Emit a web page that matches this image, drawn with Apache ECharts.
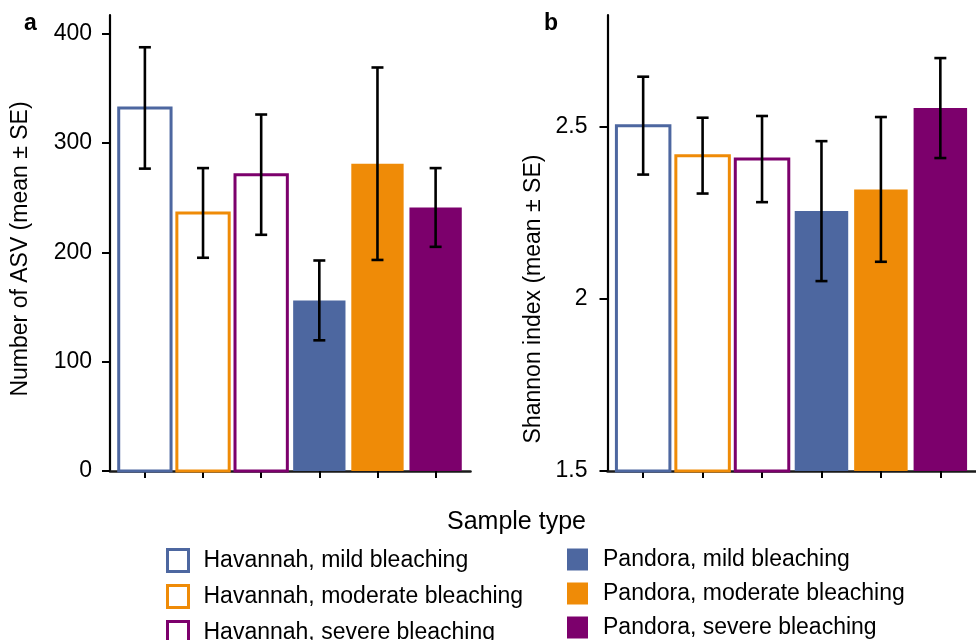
<!DOCTYPE html>
<html>
<head>
<meta charset="utf-8">
<script src="https://cdn.jsdelivr.net/npm/echarts@6/dist/echarts.min.js"></script>
<style>
	html, body { margin: 0; padding: 0; background: #fff; }
	#container { width: 976px; height: 640px; }
</style>
</head>
<body>
<div id="container"></div>
<script>
(function(){

	// data
	var sampleTypes = [
		"Havannah, mild bleaching",
		"Havannah, moderate bleaching",
		"Havannah, severe bleaching",
		"Pandora, mild bleaching",
		"Pandora, moderate bleaching",
		"Pandora, severe bleaching"
	];
	var xPos = [ 1, 2, 3, 4, 5, 6 ];
	var asvMean = [ 332, 236, 271, 156, 281, 241 ];
	var asvSE = [ 55.5, 41, 55, 36.5, 88, 36 ];
	var shannonMean = [ 2.502, 2.415, 2.405, 2.254, 2.317, 2.553 ];
	var shannonSE = [ 0.142, 0.11, 0.125, 0.203, 0.21, 0.145 ];
	var asvTicks = [ 0, 100, 200, 300, 400 ];
	var shannonTicks = [ 1.5, 2, 2.5 ];
	var hollow = [ true, true, true, false, false, false ];

	var palette = [ "#4D67A0", "#EF8B07", "#7C006C", "#4D67A0", "#EF8B07", "#7C006C" ];
	var FONT = "Liberation Sans";

	var dom = window.document.getElementById( "container" );
	var myChart = echarts.init( dom );

	var barSeries = function( idx, means, base ){
		var out = [];
		var i = 0, iLen = sampleTypes.length;
		for(;i<iLen;++i){
			(function( k ){
				out.push({
					type : "custom",
					name : sampleTypes[ k ],
					xAxisIndex : idx,
					yAxisIndex : idx,
					z : 2,
					data : [ [ xPos[ k ], means[ k ] ] ],
					renderItem : function( params, api ){
						var p0 = api.coord( [ api.value( 0 ) - 0.45, api.value( 1 ) ] );
						var p1 = api.coord( [ api.value( 0 ) + 0.45, base ] );
						return {
							type : "rect",
							shape : { x : p0[0], y : p0[1], width : p1[0] - p0[0], height : p1[1] - p0[1] },
							style : hollow[ k ]
								? { fill : "#fff", stroke : palette[ k ], lineWidth : 3 }
								: { fill : palette[ k ] }
						};
					}
				});
			})( i );
		}
		return out;
	};

	var errSeries = function( idx, means, se ){
		var d = [];
		var i = 0, iLen = means.length;
		for(;i<iLen;++i) d.push( [ xPos[ i ], means[ i ] - se[ i ], means[ i ] + se[ i ] ] );
		return {
			type : "custom",
			name : "err" + idx,
			xAxisIndex : idx,
			yAxisIndex : idx,
			z : 5,
			data : d,
			renderItem : function( params, api ){
				var lo = api.coord( [ api.value( 0 ), api.value( 1 ) ] );
				var hi = api.coord( [ api.value( 0 ), api.value( 2 ) ] );
				var st = { stroke : "#000", lineWidth : 2.6 };
				var w = 6;
				return {
					type : "group",
					children : [
						{ type : "line", shape : { x1 : lo[0], y1 : lo[1], x2 : hi[0], y2 : hi[1] }, style : st },
						{ type : "line", shape : { x1 : lo[0] - w, y1 : lo[1], x2 : lo[0] + w, y2 : lo[1] }, style : st },
						{ type : "line", shape : { x1 : hi[0] - w, y1 : hi[1], x2 : hi[0] + w, y2 : hi[1] }, style : st }
					]
				};
			}
		};
	};

	var xAxisOf = function( idx ){
		return {
			type : "value",
			gridIndex : idx,
			min : 0.4,
			max : 6.6,
			splitLine : { show : false },
			axisLine : { lineStyle : { color : "#1a1a1a", width : 2.6 } },
			axisTick : { customValues : xPos, length : 7, lineStyle : { color : "#000", width : 2 } },
			axisLabel : { show : false }
		};
	};

	var yAxisOf = function( idx, min, max, ticks, name, gap, margin, pad ){
		return {
			type : "value",
			gridIndex : idx,
			min : min,
			max : max,
			name : name,
			nameLocation : "middle",
			nameGap : gap,
			nameTextStyle : { fontFamily : FONT, fontSize : 23, color : "#000", padding : pad },
			splitLine : { show : false },
			axisLine : { show : true, lineStyle : { color : "#000", width : 2.2 } },
			axisTick : { customValues : ticks, length : 8, lineStyle : { color : "#000", width : 2 } },
			axisLabel : {
				customValues : ticks,
				margin : margin,
				fontFamily : FONT, fontSize : 23, color : "#000",
				formatter : function( v ){ return String( v ); }
			}
		};
	};

	var legendOf = function( names, left, isHollow ){
		var d = [];
		var i = 0, iLen = names.length;
		for(;i<iLen;++i){
			var k = sampleTypes.indexOf( names[ i ] );
			d.push({
				name : names[ i ],
				icon : "rect",
				itemStyle : isHollow
					? { color : "#fff", borderColor : palette[ k ], borderWidth : 3 }
					: { color : palette[ k ], borderWidth : 0 }
			});
		}
		return {
			orient : "vertical",
			left : left,
			top : 548,
			height : 200,
			itemWidth : 21,
			itemHeight : 22,
			itemGap : 11,
			selectedMode : false,
			padding : 0,
			textStyle : { fontFamily : FONT, fontSize : 23, color : "#000", padding : [ 0, 0, 0, 10 ] },
			data : d
		};
	};

	var option = {
		animation : false,
		textStyle : { fontFamily : FONT },
		title : [
			{ text : "a", left : 24, top : 12, padding : 0, textStyle : { fontFamily : FONT, fontSize : 23, fontWeight : "bold", color : "#000" } },
			{ text : "b", left : 544, top : 12, padding : 0, textStyle : { fontFamily : FONT, fontSize : 23, fontWeight : "bold", color : "#000" } },
			{ text : "Sample type", left : 447, top : 510, padding : 0, textStyle : { fontFamily : FONT, fontSize : 25, fontWeight : "normal", color : "#000" } }
		],
		grid : [
			{ left : 110, top : 15, width : 360.5, height : 456 },
			{ left : 607.5, top : 15, width : 368.5, height : 456 }
		],
		xAxis : [ xAxisOf( 0 ), xAxisOf( 1 ) ],
		yAxis : [
			yAxisOf( 0, 0, 417, asvTicks, "Number of ASV (mean ± SE)", 78, 18, [ 0, 12, 0, 0 ] ),
			yAxisOf( 1, 1.5, 2.823, shannonTicks, "Shannon index (mean ± SE)", 62, 20, [ 0, 112, 0, 0 ] )
		],
		legend : [
			legendOf( sampleTypes.slice( 0, 3 ), 166, true ),
			legendOf( sampleTypes.slice( 3, 6 ), 567, false )
		],
		series : [].concat(
			barSeries( 0, asvMean, 0 ),
			[ errSeries( 0, asvMean, asvSE ) ],
			barSeries( 1, shannonMean, 1.5 ),
			[ errSeries( 1, shannonMean, shannonSE ) ]
		)
	};

	if( option && typeof option === "object" ) myChart.setOption( option, true );

	window.addEventListener( "resize", function(e){ myChart.resize(); } );
})();
</script>
</body>
</html>
